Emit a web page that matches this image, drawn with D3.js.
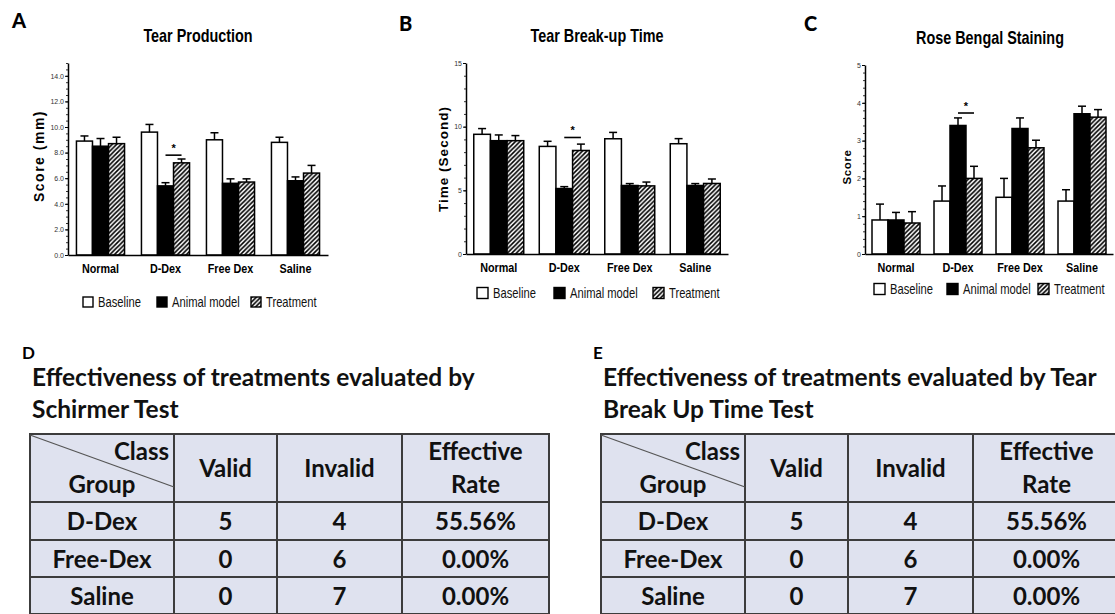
<!DOCTYPE html>
<html><head><meta charset="utf-8">
<script src="https://cdn.jsdelivr.net/npm/d3@7"></script>
<style>body{margin:0;background:#fff} svg{display:block}</style>
</head><body><svg id="c" width="1115" height="614"></svg>
<script>
// ---------- DATA ----------
const categories = ["Normal", "D-Dex", "Free Dex", "Saline"];
const seriesNames = ["Baseline", "Animal model", "Treatment"];

// A: Tear Production (mm)
const tpBaseline = [8.9, 9.6, 9.0, 8.8];
const tpAnimal = [8.5, 5.4, 5.6, 5.8];
const tpTreatment = [8.7, 7.2, 5.7, 6.4];
const tpBaselineErr = [0.4, 0.6, 0.55, 0.4];
const tpAnimalErr = [0.6, 0.25, 0.35, 0.3];
const tpTreatmentErr = [0.5, 0.3, 0.25, 0.6];
const tpTicks = [0, 2, 4, 6, 8, 10, 12, 14];

// B: Tear Break-up Time (s)
const tbBaseline = [9.4, 8.45, 9.05, 8.66];
const tbAnimal = [8.9, 5.14, 5.38, 5.38];
const tbTreatment = [8.9, 8.13, 5.35, 5.54];
const tbBaselineErr = [0.45, 0.4, 0.5, 0.4];
const tbAnimalErr = [0.45, 0.15, 0.15, 0.15];
const tbTreatmentErr = [0.4, 0.5, 0.3, 0.35];
const tbTicks = [0, 5, 10, 15];

// C: Rose Bengal Staining (score)
const rbBaseline = [0.9, 1.4, 1.5, 1.4];
const rbAnimal = [0.9, 3.4, 3.32, 3.71];
const rbTreatment = [0.82, 2.0, 2.81, 3.62];
const rbBaselineErr = [0.42, 0.4, 0.5, 0.3];
const rbAnimalErr = [0.2, 0.2, 0.28, 0.2];
const rbTreatmentErr = [0.3, 0.32, 0.2, 0.2];
const rbTicks = [0, 1, 2, 3, 4, 5];

// significance (group, level of bracket)
const sigGroup = "D-Dex";
const sigLevels = [7.8, 9.15, 3.73];

// Tables
const tableGroups = ["D-Dex", "Free-Dex", "Saline"];
const schirmerValid = [5, 0, 0];
const schirmerInvalid = [4, 6, 7];
const schirmerRate = ["55.56%", "0.00%", "0.00%"];
const tbutValid = [5, 0, 0];
const tbutInvalid = [4, 6, 7];
const tbutRate = ["55.56%", "0.00%", "0.00%"];

// ---------- DRAW ----------
const svg = d3.select("#c");
svg.append("rect").attr("width", 1115).attr("height", 614).attr("fill", "#fff");
const defs = svg.append("defs");
const pat = defs.append("pattern").attr("id", "hatch").attr("patternUnits", "userSpaceOnUse")
  .attr("width", 4.5).attr("height", 4.5);
pat.append("rect").attr("width", 4.5).attr("height", 4.5).attr("fill", "#fff");
pat.append("path").attr("d", "M-1,1 L1,-1 M0,4.5 L4.5,0 M3.5,5.5 L5.5,3.5")
  .attr("stroke", "#000").attr("stroke-width", 1.6);

const ARIAL = "'Liberation Sans',Arial,sans-serif";
const CAL = "Lato,'Noto Sans',sans-serif";
const NX = 0.8; // horizontal condensing to mimic Arial Narrow
const fills = ["#fff", "#000", "url(#hatch)"];

function narrowText(g, x, y, s, size, weight, anchor) {
  return g.append("text").attr("transform", `translate(${x},${y}) scale(${NX},1)`)
    .attr("text-anchor", anchor || "start").attr("font-family", ARIAL)
    .attr("font-weight", weight || "normal").attr("font-size", size).text(s);
}

function drawPanel(cfg) {
  const g = svg.append("g");
  const x = d3.scaleBand().domain(categories).range([cfg.x0, cfg.x1])
    .paddingInner(cfg.pad).paddingOuter(cfg.pad / 2);
  const xs = d3.scaleBand().domain(seriesNames).range([0, x.bandwidth()]);
  const y = d3.scaleLinear().domain([0, cfg.yMax]).range([cfg.yBottom, cfg.yTop]);

  // bars
  cfg.series.forEach((vals, si) => {
    vals.forEach((v, ci) => {
      const bx = x(categories[ci]) + xs(seriesNames[si]);
      g.append("rect").attr("x", bx).attr("y", y(v)).attr("width", xs.bandwidth())
        .attr("height", y(0) - y(v)).attr("fill", fills[si])
        .attr("stroke", "#000").attr("stroke-width", 1.5);
    });
  });
  // error bars
  cfg.series.forEach((vals, si) => {
    vals.forEach((v, ci) => {
      const cx = x(categories[ci]) + xs(seriesNames[si]) + xs.bandwidth() / 2;
      const top = y(v + cfg.errors[si][ci]);
      g.append("line").attr("x1", cx).attr("x2", cx).attr("y1", y(v)).attr("y2", top)
        .attr("stroke", "#000").attr("stroke-width", 1.5);
      g.append("line").attr("x1", cx - 4).attr("x2", cx + 4).attr("y1", top).attr("y2", top)
        .attr("stroke", "#000").attr("stroke-width", 1.5);
    });
  });
  // significance
  const sx1 = x(sigGroup) + xs(seriesNames[1]) + xs.bandwidth() / 2;
  const sx2 = x(sigGroup) + xs(seriesNames[2]) + xs.bandwidth() / 2;
  g.append("line").attr("x1", sx1).attr("x2", sx2).attr("y1", y(cfg.sig)).attr("y2", y(cfg.sig))
    .attr("stroke", "#000").attr("stroke-width", 1.6);
  g.append("text").attr("x", (sx1 + sx2) / 2).attr("y", y(cfg.sig) - 3).attr("text-anchor", "middle")
    .attr("font-family", ARIAL).attr("font-weight", "bold").attr("font-size", 11).text("*");

  // y axis minor
  const minor = d3.range(0, cfg.yMax + 1e-9, cfg.minor);
  g.append("g").attr("transform", `translate(${cfg.x0},0)`)
    .call(d3.axisLeft(y).tickValues(minor).tickSize(2).tickFormat(""))
    .call(a => a.select(".domain").remove())
    .selectAll("line").attr("stroke", "#000").attr("stroke-width", 0.8);
  const ya = g.append("g").attr("transform", `translate(${cfg.x0},0)`)
    .call(d3.axisLeft(y).tickValues(cfg.ticks).tickSize(3).tickSizeOuter(0).tickPadding(1).tickFormat(d3.format(cfg.fmt)));
  ya.select(".domain").attr("stroke", "#000").attr("stroke-width", 1.5);
  ya.selectAll("line").attr("stroke", "#000").attr("stroke-width", 1);
  ya.selectAll("text").attr("font-family", ARIAL).attr("font-size", 7).attr("fill", "#333");

  // x axis
  const xa = g.append("g").attr("transform", `translate(0,${cfg.yBottom})`)
    .call(d3.axisBottom(x).tickSize(0).tickSizeOuter(0).tickPadding(8));
  xa.select(".domain").attr("stroke", "#000").attr("stroke-width", 1.6);
  xa.selectAll("text").attr("font-family", ARIAL).attr("font-weight", "bold")
    .attr("font-size", 13.5).attr("fill", "#000").attr("transform", `scale(${NX},1)`);

  // y label
  g.append("text").attr("transform", `translate(${cfg.ylabX},${cfg.ylabY}) rotate(-90)`)
    .attr("text-anchor", "middle").attr("font-family", ARIAL).attr("font-weight", "bold")
    .attr("font-size", cfg.ylabSize).attr("letter-spacing", cfg.ylabSpacing).text(cfg.ylabel);
  // title
  narrowText(g, cfg.titleX, cfg.titleY, cfg.title, 18, "bold", "middle");
  // panel letter
  g.append("text").attr("x", cfg.letterX).attr("y", cfg.letterY)
    .attr("font-family", CAL).attr("font-weight", "900").attr("font-size", 20).text(cfg.letter);

  // legend
  seriesNames.forEach((s, i) => {
    const bs = cfg.legBox;
    g.append("rect").attr("x", cfg.legX[i]).attr("y", cfg.legY - bs / 2).attr("width", bs).attr("height", bs)
      .attr("fill", fills[i]).attr("stroke", "#000").attr("stroke-width", 1.4);
    narrowText(g, cfg.legX[i] + bs + 5, cfg.legY + 5, s, 14, "normal").attr("fill", "#111");
  });
}

drawPanel({
  letter: "A", letterX: 12, letterY: 28,
  title: "Tear Production", titleX: 198, titleY: 42,
  x0: 68, x1: 328, pad: 0.26, yTop: 63, yBottom: 255, yMax: 15,
  ticks: tpTicks, fmt: ".1f", minor: 0.5,
  series: [tpBaseline, tpAnimal, tpTreatment], errors: [tpBaselineErr, tpAnimalErr, tpTreatmentErr],
  sig: sigLevels[0],
  ylabel: "Score (mm)", ylabX: 44, ylabY: 156, ylabSize: 14, ylabSpacing: 1.5,
  legX: [83, 157, 251], legY: 302, legBox: 10
});
drawPanel({
  letter: "B", letterX: 399, letterY: 31,
  title: "Tear Break-up Time", titleX: 597, titleY: 42,
  x0: 466, x1: 728, pad: 0.237, yTop: 63, yBottom: 254, yMax: 15,
  ticks: tbTicks, fmt: "d", minor: 1,
  series: [tbBaseline, tbAnimal, tbTreatment], errors: [tbBaselineErr, tbAnimalErr, tbTreatmentErr],
  sig: sigLevels[1],
  ylabel: "Time (Second)", ylabX: 448, ylabY: 159, ylabSize: 13.5, ylabSpacing: 1,
  legX: [477, 554, 653], legY: 293, legBox: 11
});
drawPanel({
  letter: "C", letterX: 804, letterY: 31,
  title: "Rose Bengal Staining", titleX: 990, titleY: 44,
  x0: 865, x1: 1113, pad: 0.226, yTop: 65, yBottom: 254, yMax: 5,
  ticks: rbTicks, fmt: "d", minor: 0.2,
  series: [rbBaseline, rbAnimal, rbTreatment], errors: [rbBaselineErr, rbAnimalErr, rbTreatmentErr],
  sig: sigLevels[2],
  ylabel: "Score", ylabX: 851, ylabY: 167, ylabSize: 11.5, ylabSpacing: 0.6,
  legX: [874, 947, 1038], legY: 289, legBox: 11
});

// ---------- TABLES ----------
function drawTable(cfg) {
  const g = svg.append("g").attr("transform", `translate(${cfg.dx},0)`);
  const colX = [30, 174, 277, 402, 549];
  const rowY = [434, 502, 540, 577, 614];
  g.append("text").attr("x", 22).attr("y", 359).attr("font-family", CAL).attr("font-weight", "bold")
    .attr("font-size", 17).text(cfg.letter);
  cfg.titleLines.forEach((t, i) => {
    g.append("text").attr("x", 32).attr("y", 386 + i * 32).attr("font-family", CAL).attr("font-weight", "bold")
      .attr("font-size", 24.5).attr("fill", "#111").text(t);
  });
  // cells
  for (let r = 0; r < 4; r++) {
    for (let c = 0; c < 4; c++) {
      g.append("rect").attr("x", colX[c]).attr("y", rowY[r]).attr("width", colX[c + 1] - colX[c])
        .attr("height", rowY[r + 1] - rowY[r]).attr("fill", "#dfe2ef")
        .attr("stroke", "#3c3c3c").attr("stroke-width", 2);
    }
  }
  g.append("line").attr("x1", colX[0]).attr("y1", rowY[0] + 1).attr("x2", colX[1]).attr("y2", 487)
    .attr("stroke", "#555").attr("stroke-width", 1.2);
  const txt = (x, y, s, anchor) => g.append("text").attr("x", x).attr("y", y)
    .attr("text-anchor", anchor || "middle").attr("font-family", CAL).attr("font-weight", "bold")
    .attr("font-size", 24).attr("fill", "#111").text(s);
  const mid = c => (colX[c] + colX[c + 1]) / 2;
  txt(colX[1] - 5, 460, "Class", "end");
  txt(102, 493, "Group");
  txt(mid(1), 477, "Valid");
  txt(mid(2), 477, "Invalid");
  txt(mid(3), 460, "Effective");
  txt(mid(3), 493, "Rate");
  tableGroups.forEach((gname, i) => {
    const yb = (rowY[i + 1] + rowY[i + 2]) / 2 + 9;
    txt(mid(0), yb, gname);
    txt(mid(1), yb, cfg.valid[i]);
    txt(mid(2), yb, cfg.invalid[i]);
    txt(mid(3), yb, cfg.rate[i]);
  });
}
drawTable({ dx: 0, letter: "D", titleLines: ["Effectiveness of treatments evaluated by", "Schirmer Test"],
  valid: schirmerValid, invalid: schirmerInvalid, rate: schirmerRate });
drawTable({ dx: 571, letter: "E", titleLines: ["Effectiveness of treatments evaluated by Tear", "Break Up Time Test"],
  valid: tbutValid, invalid: tbutInvalid, rate: tbutRate });
</script></body></html>
